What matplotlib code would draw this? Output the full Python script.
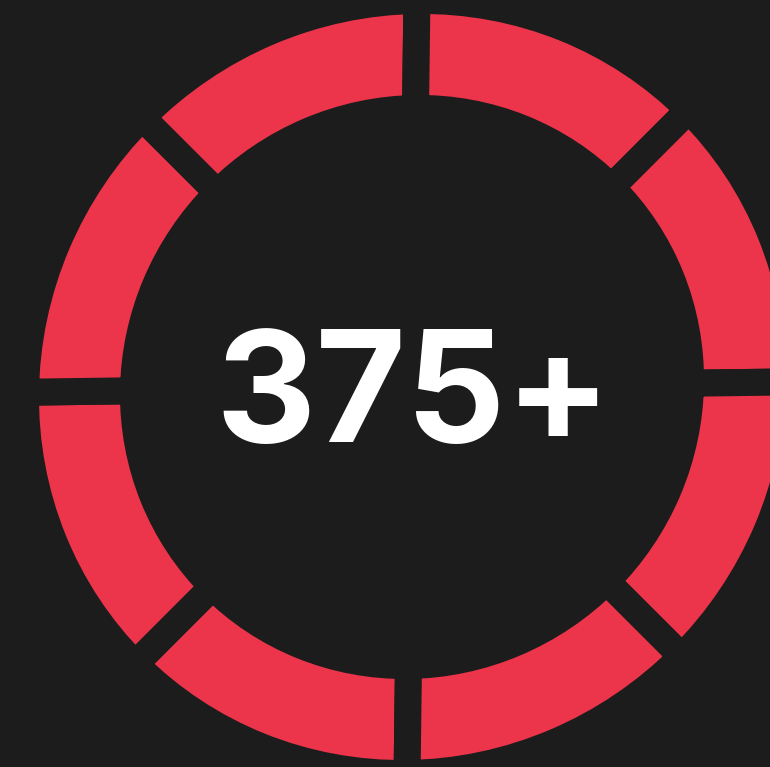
import numpy as np
import matplotlib.pyplot as plt
from matplotlib.transforms import Affine2D

# eight equal ring segments and the centre figure
segments = [1, 1, 1, 1, 1, 1, 1, 1]
centre_label = "375+"

bg = "#1c1c1c"
red = "#ec354b"

W, H = 770, 767
fig = plt.figure(figsize=(W / 100, H / 100), dpi=100, facecolor=bg)
ax = fig.add_axes([0, 0, 1, 1])
ax.set_facecolor(bg)

cx, cy = 412, 387
R, r = 373, 292
gap = 27  # px
lw = gap * 72 / 100  # points

wedges, _ = ax.pie(segments, radius=R + gap / 2, center=(cx, cy), startangle=90,
                   colors=[red] * len(segments),
                   wedgeprops=dict(width=R - r + gap, edgecolor=bg, linewidth=lw))

# the ring in the picture is slightly skewed
a, b = -0.0127, -0.0135
skew = (Affine2D().translate(-cx, -cy)
        + Affine2D(np.array([[1, a, 0], [b, 1, 0], [0, 0, 1]]))
        + Affine2D().translate(cx, cy))
for w in wedges:
    w.set_transform(skew + ax.transData)

ax.text(cx + 1, cy + 14, centre_label, color="white", fontsize=112,
        fontfamily="Inter", fontweight="bold", ha="center", va="center")

ax.set_xlim(0, W)
ax.set_ylim(H, 0)
ax.set_aspect("equal")
ax.axis("off")

fig.savefig("out.png", dpi=100, facecolor=bg)
